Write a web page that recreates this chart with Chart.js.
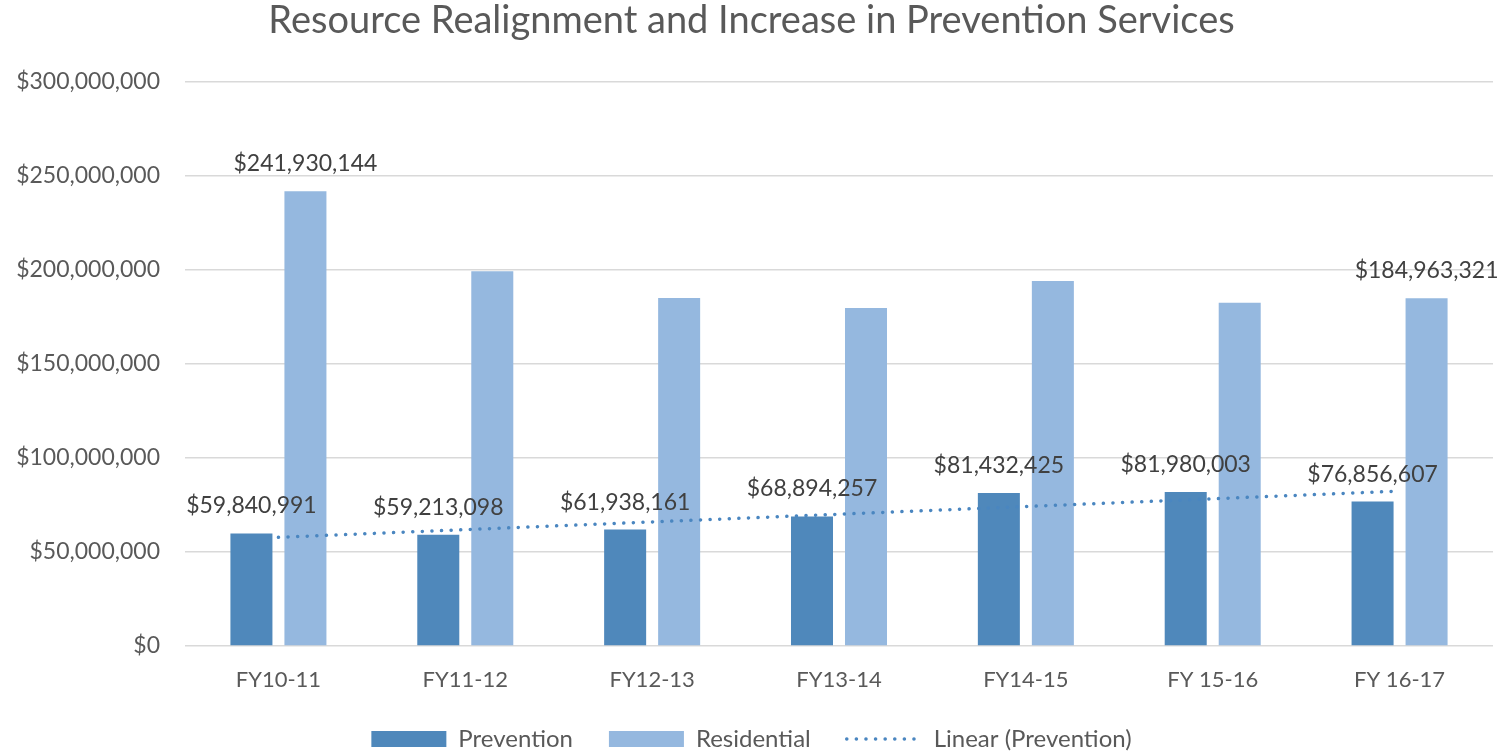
<!DOCTYPE html>
<html>
<head>
<meta charset="utf-8">
<script src="https://cdn.jsdelivr.net/npm/chart.js@4.4.1/dist/chart.umd.min.js"></script>
<style>
  html, body { margin: 0; padding: 0; background: #fff; }
  #wrap { width: 1506px; height: 752px; }
</style>
</head>
<body>
<div id="wrap"><canvas id="chart"></canvas></div>
<script>
/* ── data ── */
const categories  = ['FY10-11', 'FY11-12', 'FY12-13', 'FY13-14', 'FY14-15', 'FY 15-16', 'FY 16-17'];
const prevention  = [59840991, 59213098, 61938161, 68894257, 81432425, 81980003, 76856607];
const residential = [241930144, 199400000, 185100000, 179800000, 194200000, 182600000, 184963321];
// trend line endpoints as drawn in the picture (first and last category)
const trendLine   = [57800000, null, null, null, null, null, 82400000];
const yTicks      = [0, 50000000, 100000000, 150000000, 200000000, 250000000, 300000000];

// which bars carry a value label
const preventionLabelIdx  = [0, 1, 2, 3, 4, 5, 6];
const residentialLabelIdx = [0, 6];

/* ── styles ── */
const PREV_CLR  = '#4f88bb';
const RES_CLR   = '#95b8df';
const TREND_CLR = '#4a86c0';
const TEXT_CLR  = '#595959';
const FONT      = 'Lato, "Open Sans", sans-serif';

const money = v => '$' + v.toLocaleString('en-US');

// draws "$xx,xxx,xxx" above selected bars
const barLabels = {
  id: 'barLabels',
  afterDatasetsDraw(chart) {
    const ctx = chart.ctx;
    ctx.save();
    ctx.font = '23px ' + FONT;
    ctx.fillStyle = '#404040';
    ctx.textAlign = 'center';
    ctx.textBaseline = 'alphabetic';
    chart.data.datasets.forEach((ds, di) => {
      if (!ds.labelIdx) return;
      const meta = chart.getDatasetMeta(di);
      ds.labelIdx.forEach(i => {
        const bar = meta.data[i];
        ctx.fillText(money(ds.data[i]), bar.x, bar.y - 20);
      });
    });
    ctx.restore();
  }
};

new Chart(document.getElementById('chart'), {
  data: {
    labels: categories,
    datasets: [
      {
        type: 'line',
        label: 'Linear (Prevention)',
        data: trendLine,
        spanGaps: true,
        borderColor: TREND_CLR,
        borderWidth: 3.5,
        borderDash: [0.1, 9.5],
        borderCapStyle: 'round',
        pointRadius: 0,
        fill: false,
        order: 0,
      },
      {
        type: 'bar',
        label: 'Prevention',
        data: prevention,
        backgroundColor: PREV_CLR,
        labelIdx: preventionLabelIdx,
        categoryPercentage: 0.578,
        barPercentage: 0.778,
        order: 1,
      },
      {
        type: 'bar',
        label: 'Residential',
        data: residential,
        backgroundColor: RES_CLR,
        labelIdx: residentialLabelIdx,
        categoryPercentage: 0.578,
        barPercentage: 0.778,
        order: 1,
      },
    ],
  },
  options: {
    responsive: true,
    maintainAspectRatio: false,
    animation: false,
    layout: { padding: { left: 10, right: 13, top: 0, bottom: -9 } },
    plugins: {
      tooltip: { enabled: false },
      title: {
        display: true,
        text: 'Resource Realignment and Increase in Prevention Services',
        color: TEXT_CLR,
        font: { family: FONT, size: 38, weight: 'normal' },
        padding: { top: -2, bottom: 38.4 },
      },
      legend: {
        position: 'bottom',
        labels: {
          color: TEXT_CLR,
          font: { family: FONT, size: 24 },
          usePointStyle: true,
          pointStyleWidth: 75,
          boxHeight: 16,
          padding: 36,
          generateLabels: () => [
            { text: 'Prevention', fillStyle: PREV_CLR, strokeStyle: PREV_CLR, lineWidth: 0, pointStyle: 'rect', fontColor: TEXT_CLR },
            { text: 'Residential', fillStyle: RES_CLR, strokeStyle: RES_CLR, lineWidth: 0, pointStyle: 'rect', fontColor: TEXT_CLR },
            { text: 'Linear (Prevention)', fillStyle: 'rgba(0,0,0,0)', strokeStyle: TREND_CLR, lineWidth: 3.5,
              lineDash: [0.1, 9.5], lineCap: 'round', pointStyle: 'line', fontColor: TEXT_CLR },
          ],
        },
      },
    },
    scales: {
      x: {
        grid: { display: false },
        border: { display: false },
        afterFit: scale => { scale.height = 45; },
        ticks: { color: TEXT_CLR, font: { family: FONT, size: 22 }, padding: 13 },
      },
      y: {
        min: 0,
        max: 300000000,
        afterBuildTicks: scale => { scale.ticks = yTicks.map(v => ({ value: v })); },
        afterFit: scale => { scale.width = 175; },
        grid: { color: '#d9d9d9', lineWidth: 1.5, drawTicks: false },
        border: { display: false },
        ticks: { color: TEXT_CLR, font: { family: FONT, size: 23 }, padding: 25, callback: v => money(v) },
      },
    },
  },
  plugins: [barLabels],
});
</script>
</body>
</html>
